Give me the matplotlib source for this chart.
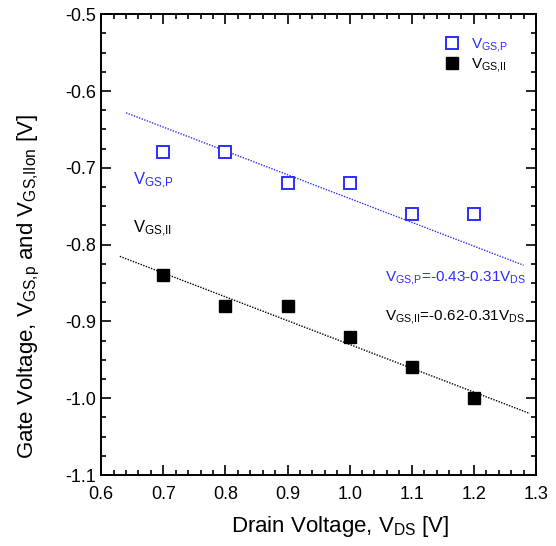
import numpy as np
import matplotlib
matplotlib.use("Agg")
import matplotlib.pyplot as plt
from matplotlib.ticker import MultipleLocator, FormatStrFormatter

plt.rcParams['font.family'] = ['Liberation Sans', 'DejaVu Sans']
plt.rcParams['mathtext.fontset'] = 'custom'
plt.rcParams['mathtext.rm'] = 'Liberation Sans'
plt.rcParams['mathtext.it'] = 'Liberation Sans'
plt.rcParams['mathtext.default'] = 'rm'
plt.rcParams['axes.unicode_minus'] = False

# data
vds = [0.7, 0.8, 0.9, 1.0, 1.1, 1.2]
vgs_p = [-0.68, -0.68, -0.72, -0.72, -0.76, -0.76]
vgs_ii = [-0.84, -0.88, -0.88, -0.92, -0.96, -1.00]

# linear fits (intercept, slope) and drawn x ranges
fit_p = (-0.43, -0.31)
fit_ii = (-0.62, -0.31)
fit_p_x = [0.64, 1.28]
fit_ii_x = [0.63, 1.29]

blue = '#2d2dff'

fig = plt.figure(figsize=(5.56, 5.46), dpi=100)
ax = fig.add_axes([0.182, 0.130, 0.782, 0.844])

xp = np.array(fit_p_x)
xi = np.array(fit_ii_x)
ax.plot(xp, fit_p[0] + fit_p[1] * xp, color=blue, linestyle=(0, (1, 1)), linewidth=1)
ax.plot(xi, fit_ii[0] + fit_ii[1] * xi, color='black', linestyle=(0, (1, 1)), linewidth=1)

ax.plot(vds, vgs_p, linestyle='none', marker='s', markersize=8.5,
        markerfacecolor='white', markeredgecolor=blue, markeredgewidth=1.4,
        label='V$_{GS{,}P}$')
ax.plot(vds, vgs_ii, linestyle='none', marker='s', markersize=8.5,
        color='black', label='V$_{GS{,}II}$')

leg = ax.legend(loc='upper right', bbox_to_anchor=(0.96, 0.975), frameon=False,
                fontsize=11, handletextpad=0.6, handlelength=1.2, borderaxespad=0.3,
                labelspacing=0.1)
leg.get_texts()[0].set_color(blue)

ax.text(0.652, -0.722, 'V$_{GS{,}P}$', color=blue, fontsize=12)
ax.text(0.652, -0.785, 'V$_{GS{,}II}$', color='black', fontsize=12)
ax.text(1.057, -0.848, 'V$_{GS{,}P}$=-0.43-0.31V$_{DS}$', color=blue, fontsize=11)
ax.text(1.057, -0.898, 'V$_{GS{,}II}$=-0.62-0.31V$_{DS}$', color='black', fontsize=11)

ax.set_xlim(0.6, 1.3)
ax.set_ylim(-1.1, -0.5)
ax.xaxis.set_major_locator(MultipleLocator(0.1))
ax.xaxis.set_minor_locator(MultipleLocator(0.02))
ax.yaxis.set_major_locator(MultipleLocator(0.1))
ax.yaxis.set_minor_locator(MultipleLocator(0.025))
ax.xaxis.set_major_formatter(FormatStrFormatter('%.1f'))
ax.yaxis.set_major_formatter(FormatStrFormatter('%.1f'))
ax.tick_params(which='both', direction='in', top=True, right=True, width=1.2, labelsize=13)
ax.tick_params(which='major', length=7)
ax.tick_params(which='minor', length=3.5)
ax.tick_params(axis='x', pad=8)
for s in ax.spines.values():
    s.set_linewidth(1.4)

ax.set_xlabel('Drain Voltage, V$_{DS}$ [V]', fontsize=16)
ax.set_ylabel('Gate Voltage, V$_{GS{,}p}$ and V$_{GS{,}IIon}$ [V]', fontsize=16)
ax.xaxis.set_label_coords(0.55, -0.085)
ax.yaxis.set_label_coords(-0.135, 0.41)

fig.savefig('out.png', dpi=100)
